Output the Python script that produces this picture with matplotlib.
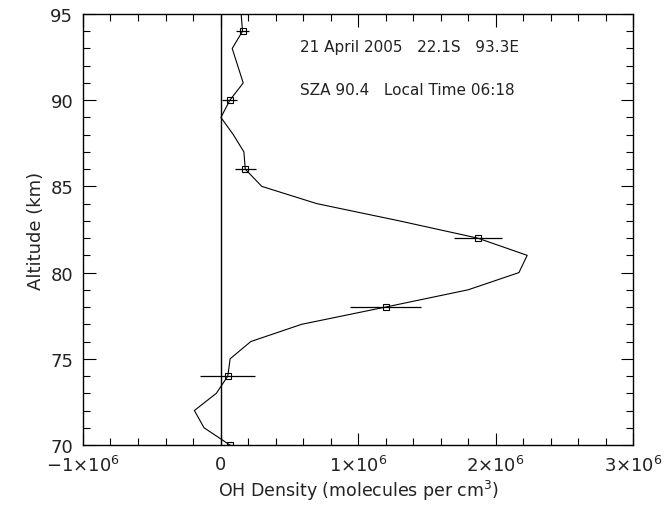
import matplotlib
matplotlib.use("Agg")
import matplotlib.pyplot as plt
from matplotlib.ticker import MultipleLocator, FixedLocator, FixedFormatter

# full retrieved profile (altitude km, OH density)
alt = [95, 94, 93, 92, 91, 90, 89, 88, 87, 86, 85, 84, 83, 82, 81, 80,
       79, 78, 77, 76, 75, 74, 73, 72, 71, 70]
dens = [0.15e6, 0.16e6, 0.085e6, 0.125e6, 0.165e6, 0.068e6, 0.003e6, 0.093e6,
        0.17e6, 0.18e6, 0.30e6, 0.70e6, 1.30e6, 1.87e6, 2.23e6, 2.17e6,
        1.80e6, 1.20e6, 0.59e6, 0.22e6, 0.07e6, 0.053e6, -0.03e6, -0.19e6,
        -0.12e6, 0.068e6]

# points with error bars
err_alt = [94, 90, 86, 82, 78, 74, 70]
err_dens = [0.16e6, 0.068e6, 0.18e6, 1.87e6, 1.20e6, 0.053e6, 0.068e6]
err_half = [0.047e6, 0.055e6, 0.076e6, 0.175e6, 0.26e6, 0.20e6, 0.02e6]

xticks = [-1e6, 0, 1e6, 2e6, 3e6]
xlabels = ['\u22121\u00d710$^{6}$', '0', '1\u00d710$^{6}$', '2\u00d710$^{6}$', '3\u00d710$^{6}$']
yticks = [70, 75, 80, 85, 90, 95]

plt.rcParams['font.family'] = ['DejaVu Sans']
plt.rcParams['mathtext.fontset'] = 'dejavusans'

fig = plt.figure(figsize=(6.65, 5.06), dpi=100)
ax = fig.add_axes([0.1248, 0.1186, 0.8272, 0.8518])

ax.plot(dens, alt, color='black', lw=0.8)
ax.errorbar(err_dens, err_alt, xerr=err_half, fmt='s', mfc='none', mec='black',
            ms=5, mew=0.8, ecolor='black', elinewidth=0.9, capsize=0)
ax.axvline(0, color='black', lw=1.0)

ax.set_xlim(-1e6, 3e6)
ax.set_ylim(70, 95)
ax.xaxis.set_major_locator(FixedLocator(xticks))
ax.xaxis.set_major_formatter(FixedFormatter(xlabels))
ax.xaxis.set_minor_locator(MultipleLocator(0.2e6))
ax.yaxis.set_major_locator(FixedLocator(yticks))
ax.yaxis.set_minor_locator(MultipleLocator(1))

ax.tick_params(which='both', direction='in', top=True, right=True, labelsize=13,
               colors='black', labelcolor='#222222')
ax.tick_params(which='major', length=9, width=0.8, pad=7)
ax.tick_params(which='minor', length=5, width=0.8)
for s in ax.spines.values():
    s.set_linewidth(1.0)

ax.set_xlabel('OH Density (molecules per cm$^{3}$)', fontsize=12.5, labelpad=2, color='#222222')
ax.set_ylabel('Altitude (km)', fontsize=13, labelpad=4, color='#222222')

ax.text(0.395, 0.915, '21 April 2005   22.1S   93.3E', transform=ax.transAxes,
        fontsize=11, color='#222222')
ax.text(0.395, 0.815, 'SZA 90.4   Local Time 06:18', transform=ax.transAxes,
        fontsize=11, color='#222222')

fig.savefig('out.png', dpi=100)
